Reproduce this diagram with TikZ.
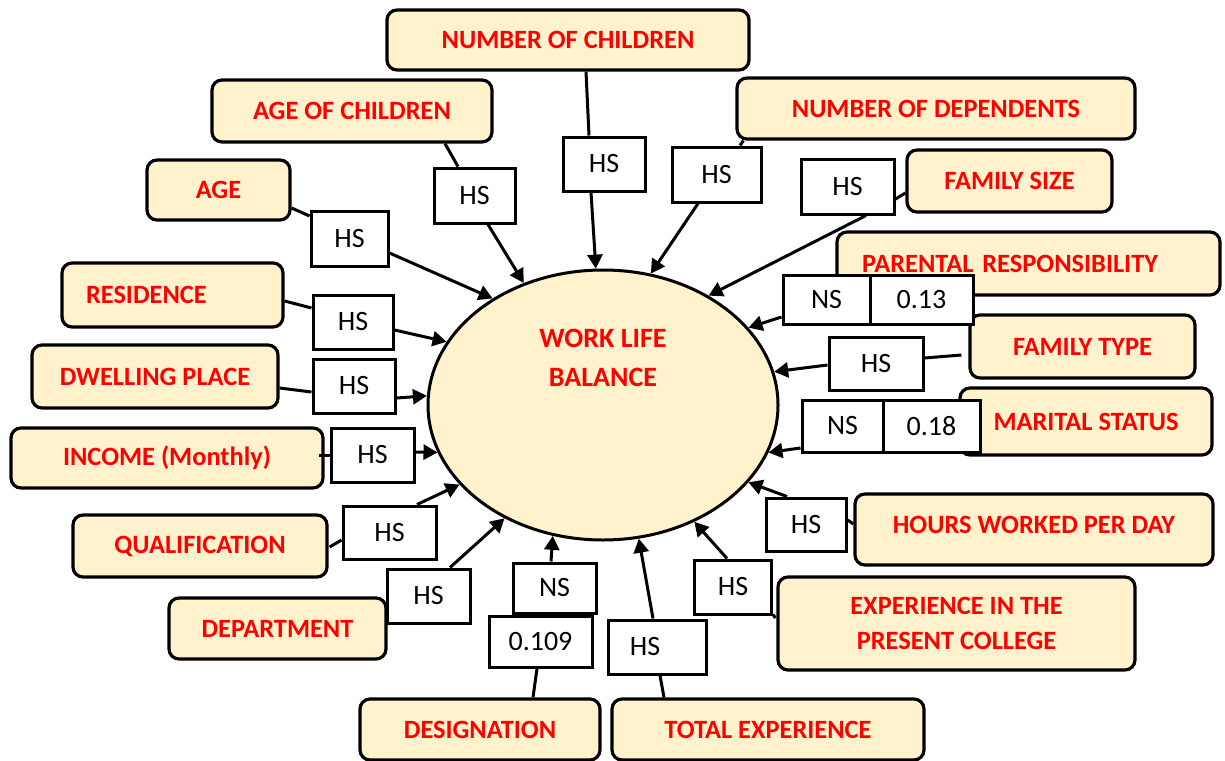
\documentclass[tikz,border=0pt]{standalone}
\usepackage{fontspec}
\setmainfont{Carlito}
\usetikzlibrary{arrows.meta,shapes.geometric,calc}
\definecolor{cream}{HTML}{FFF2CC}
\definecolor{labelred}{HTML}{FF0000}

\begin{document}
\begin{tikzpicture}[x=0.5pt,y=-0.5pt,
  factor/.style={draw=black, line width=1.6pt, fill=cream, rounded corners=5pt,
    text=labelred, font=\fontsize{13.2}{17.5}\selectfont\bfseries,
    inner sep=0pt, align=center},
  sig/.style={draw=black, line width=1.5pt, fill=white,
    font=\fontsize{14}{16}\selectfont, inner sep=0pt},
  link/.style={line width=1.5pt},
  arr/.style={line width=1.5pt, -{Triangle[length=7pt,width=7.5pt]}},
]
\useasboundingbox (0,0) rectangle (1225,760);

% central construct
\node[ellipse, draw=black, line width=1.5pt, fill=cream, inner sep=0pt,
  minimum width=175pt, minimum height=135pt,
  label={[text=labelred, font=\fontsize{14}{19.5}\selectfont\bfseries,
          align=center, yshift=23.5pt]center:WORK LIFE\\BALANCE}]
  (wlb) at (603,405) {};

% factor boxes
\node[factor, minimum width=181pt, minimum height=30pt]   (nchild)  at (568,40)    {NUMBER OF CHILDREN};
\node[factor, minimum width=140pt, minimum height=31pt]   (agech)   at (352,111)   {AGE OF CHILDREN};
\node[factor, minimum width=199pt, minimum height=30.5pt] (ndep)    at (936,108.5) {NUMBER OF DEPENDENTS};
\node[factor, minimum width=71.5pt, minimum height=30pt]  (age)     at (218.5,190) {AGE};
\node[factor, minimum width=102.5pt, minimum height=31pt] (fsize)   at (1009.5,181) {FAMILY SIZE};
\node[factor, minimum width=191.5pt, minimum height=31.5pt,
      text width=166.5pt, align=left, inner xsep=12.5pt]  (parent)  at (1028.5,263.5) {PARENTAL RESPONSIBILITY};
\node[factor, minimum width=110.5pt, minimum height=32pt,
      text width=86.5pt, align=left, inner xsep=12pt]     (res)     at (172.5,295) {RESIDENCE};
\node[factor, minimum width=112.5pt, minimum height=31.5pt] (ftype) at (1082.5,346.5) {FAMILY TYPE};
\node[factor, minimum width=123pt, minimum height=31.5pt] (dwell)   at (155,376.5) {DWELLING PLACE};
\node[factor, minimum width=126pt, minimum height=33.5pt] (marital) at (1086,421.5) {MARITAL STATUS};
\node[factor, minimum width=156pt, minimum height=30pt]   (income)  at (167,458)   {INCOME (Monthly)};
\node[factor, minimum width=179pt, minimum height=35.5pt] (hours)   at (1034,529.5)
  {\raisebox{2.5pt}[\height][\depth]{HOURS WORKED PER DAY}};
\node[factor, minimum width=127pt, minimum height=31pt]   (qual)    at (200,546)   {QUALIFICATION};
\node[factor, minimum width=178.5pt, minimum height=46.5pt] (expcol) at (956.5,623.5) {EXPERIENCE IN THE\\PRESENT COLLEGE};
\node[factor, minimum width=108.5pt, minimum height=30.5pt] (dept)   at (277.5,628.5) {DEPARTMENT};
\node[factor, minimum width=120pt, minimum height=30.5pt] (desig)   at (480,729.5) {DESIGNATION};
\node[factor, minimum width=156pt, minimum height=30.5pt] (total)   at (768,729.5) {TOTAL EXPERIENCE};

% significance boxes
\node[sig, minimum width=41pt, minimum height=27pt]   (hsnchild) at (604,164)     {HS};
\node[sig, minimum width=40.5pt, minimum height=27.5pt] (hsagech) at (474.5,195.5) {HS};
\node[sig, minimum width=44.5pt, minimum height=27.5pt] (hsndep)  at (716.5,174.5) {HS};
\node[sig, minimum width=46.5pt, minimum height=27.5pt] (hsfsize) at (847.5,186.5) {HS};
\node[sig, minimum width=38.5pt, minimum height=27.5pt] (hsage)   at (349.5,238.5) {HS};
\node[sig, minimum width=40pt, minimum height=27pt]     (hsres)   at (353,322)     {HS};
\node[sig, minimum width=41pt, minimum height=27pt]     (hsdwell) at (354,386)     {HS};
\node[sig, minimum width=41.5pt, minimum height=27pt]   (hsincome) at (372.5,455)  {HS};
\node[sig, minimum width=43.5pt, minimum height=24.5pt] (nsparent) at (826.5,299.5) {NS};
\node[sig, minimum width=51.5pt, minimum height=24.5pt] (vparent)  at (921.5,299.5) {0.13};
\node[sig, minimum width=47pt, minimum height=26.5pt]   (hsftype) at (876,363.5)   {HS};
\node[sig, minimum width=40.5pt, minimum height=26pt]   (nsmarital) at (842.5,426) {NS};
\node[sig, minimum width=48.5pt, minimum height=26pt]   (vmarital)  at (931.5,426) {0.18};
\node[sig, minimum width=40pt, minimum height=26.5pt]   (hshours) at (806,524.5)   {HS};
\node[sig, minimum width=38.5pt, minimum height=27pt]   (hsexpcol) at (733,587)    {HS};
\node[sig, minimum width=49pt, minimum height=27pt]     (hstotal) at (657,647)     {\kern-6pt HS\kern6pt};
\node[sig, minimum width=41.5pt, minimum height=25pt]   (nsdesig) at (554.5,588)   {NS};
\node[sig, minimum width=51.5pt, minimum height=25.5pt] (vdesig)  at (540.5,641.5) {0.109};
\node[sig, minimum width=41.5pt, minimum height=27pt]   (hsdept)  at (428.5,596)   {HS};
\node[sig, minimum width=46.5pt, minimum height=26.5pt] (hsqual)  at (389.5,532.5) {HS};

% factor -> significance links
\draw[link] ($(nchild.south)+(18,0)$) -- ($(hsnchild.north)+(-15,0)$);
\draw[link] ($(agech.south)+(93,0)$) -- ($(hsagech.north)+(-16.5,0)$);
\draw[link] ($(ndep.south west)+(8,0)$) -- ($(hsndep.north)+(23.5,0)$);
\draw[link] ($(fsize.west)+(0,12)$) -- ($(hsfsize.east)+(0,12.5)$);
\draw[link] ($(age.east)+(0,18)$) -- ($(hsage.west)+(0,-22.5)$);
\draw[link] ($(res.east)+(0,6)$) -- ($(hsres.west)+(0,-14)$);
\draw[link] ($(dwell.east)+(0,11.5)$) -- ($(hsdwell.west)+(0,6)$);
\draw[link] ($(income.east)+(-6,-3)$) -- (hsincome.west);
\draw[link] ($(qual.east)+(1,1)$) -- ($(hsqual.west)+(0,7.5)$);
\draw[link] ($(desig.north)+(53,0)$) -- ($(vdesig.south)+(-3.5,0)$);
\draw[link] ($(total.north)+(-104,0)$) -- ($(hstotal.south)+(3,0)$);
\draw[link] ($(expcol.west)+(-1,-5.5)$) -- ($(hsexpcol.south east)+(0,-1)$);
\draw[link] ($(hours.west)+(0,-5.5)$) -- ($(hshours.east)+(0,-4.5)$);
\draw[link] ($(ftype.west)+(-7,8.5)$) -- ($(hsftype.east)+(0,-5.5)$);

% significance -> work life balance
\draw[arr] ($(hsnchild.south)+(-13,0)$) -- (wlb.93.9);
\draw[arr] ($(hsagech.south)+(13.5,0)$) -- (wlb.123.8);
\draw[arr] ($(hsndep.south)+(-18.5,0)$) -- (wlb.70.3);
\draw[arr] ($(hsfsize.south)+(18.5,0)$) -- (wlb.46);
\draw[arr] ($(hsage.east)+(0,14.5)$) -- (wlb.136.8);
\draw[arr] ($(hsres.east)+(0,8)$) -- (wlb.158.5);
\draw[arr] ($(hsdwell.east)+(0,12)$) -- (wlb.177.8);
\draw[arr] ($(hsincome.east)+(0,-3)$) -- (wlb.196.1);
\draw[arr] ($(hsqual.north)+(27.5,0)$) -- (wlb.209.9);
\draw[arr] ($(hsdept.north)+(21.5,0)$) -- (wlb.229.2);
\draw[arr] ($(nsdesig.north)+(-3.5,0)$) -- (wlb.249.6);
\draw[arr] ($(hstotal.north)+(-4,0)$) -- (wlb.285.9);
\draw[arr] ($(hsexpcol.north)+(-6,0)$) -- (wlb.308);
\draw[arr] ($(hshours.north)+(-19,0)$) -- (wlb.332.2);
\draw[arr] ($(nsmarital.west)+(0,22)$) -- (wlb.344);
\draw[arr] ($(hsftype.west)+(0,1.5)$) -- (wlb.11.3);
\draw[arr] ($(nsparent.west)+(0,17.5)$) -- (wlb.28.5);
\end{tikzpicture}
\end{document}
